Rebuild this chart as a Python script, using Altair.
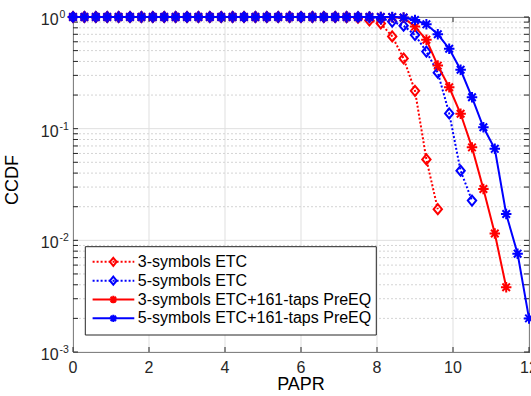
import altair as alt
import pandas as pd

# ---------------- data ----------------
PAPR = [0.0, 0.3, 0.6, 0.9, 1.2, 1.5, 1.8, 2.1, 2.4, 2.7, 3.0, 3.3, 3.6, 3.9,
        4.2, 4.5, 4.8, 5.1, 5.4, 5.7, 6.0, 6.3, 6.6, 6.9, 7.2, 7.5, 7.8, 8.1,
        8.4, 8.7, 9.0, 9.3, 9.6, 9.9, 10.2, 10.5, 10.8, 11.1, 11.4, 11.7, 12.0]

CCDF_3SYM_ETC = [1.0, 1.0, 1.0, 1.0, 1.0, 1.0, 1.0, 1.0, 1.0, 1.0, 1.0, 1.0,
                 1.0, 1.0, 1.0, 1.0, 1.0, 1.0, 1.0, 1.0, 1.0, 1.0, 1.0, 1.0,
                 0.998, 0.985, 0.93, 0.875, 0.67, 0.425, 0.218, 0.053, 0.019]

CCDF_5SYM_ETC = [1.0, 1.0, 1.0, 1.0, 1.0, 1.0, 1.0, 1.0, 1.0, 1.0, 1.0, 1.0,
                 1.0, 1.0, 1.0, 1.0, 1.0, 1.0, 1.0, 1.0, 1.0, 1.0, 1.0, 1.0,
                 1.0, 1.0, 0.995, 0.97, 0.91, 0.835, 0.69, 0.49, 0.317, 0.137,
                 0.042, 0.0227]

CCDF_3SYM_PREEQ = [1.0, 1.0, 1.0, 1.0, 1.0, 1.0, 1.0, 1.0, 1.0, 1.0, 1.0, 1.0,
                   1.0, 1.0, 1.0, 1.0, 1.0, 1.0, 1.0, 1.0, 1.0, 1.0, 1.0, 1.0,
                   1.0, 1.0, 1.0, 1.0, 0.997, 0.985, 0.82, 0.625, 0.367, 0.235,
                   0.136, 0.068, 0.0288, 0.0115, 0.0038]

CCDF_5SYM_PREEQ = [1.0, 1.0, 1.0, 1.0, 1.0, 1.0, 1.0, 1.0, 1.0, 1.0, 1.0, 1.0,
                   1.0, 1.0, 1.0, 1.0, 1.0, 1.0, 1.0, 1.0, 1.0, 1.0, 1.0, 1.0,
                   1.0, 1.0, 1.0, 1.0, 1.0, 0.99, 0.94, 0.86, 0.70, 0.52, 0.337,
                   0.191, 0.103, 0.066, 0.0172, 0.0076, 0.0020]

SERIES_NAMES = ["3-symbols ETC", "5-symbols ETC",
                "3-symbols ETC+161-taps PreEQ", "5-symbols ETC+161-taps PreEQ"]
SERIES_VALUES = [CCDF_3SYM_ETC, CCDF_5SYM_ETC, CCDF_3SYM_PREEQ, CCDF_5SYM_PREEQ]

X_TICKS = [0, 2, 4, 6, 8, 10, 12]
Y_MAJOR = [1, 0.1, 0.01, 0.001]
Y_EXP = ["0", "-1", "-2", "-3"]
Y_MINOR = [0.9, 0.8, 0.7, 0.6, 0.5, 0.4, 0.3, 0.2,
           0.09, 0.08, 0.07, 0.06, 0.05, 0.04, 0.03, 0.02,
           0.009, 0.008, 0.007, 0.006, 0.005, 0.004, 0.003, 0.002]
X_TITLE = "PAPR"
Y_TITLE = "CCDF"

# ---------------- styles ----------------
W, H = 456, 335
FONT = "Liberation Sans"
AX = "#262626"
GRID = "#dfdfdf"
RED = "#ff0000"
BLUE = "#0000ff"
COLORS = [RED, BLUE, RED, BLUE]
DOTTED = [2, 2]
DASHES = [DOTTED, DOTTED, None, None]
DIAMOND = "M0,-1.2L1,0L0,1.2L-1,0Z"
STAR = "M-1,0L1,0M0,-1L0,1M-0.72,-0.72L0.72,0.72M-0.72,0.72L0.72,-0.72"
SHAPES = [DIAMOND, DIAMOND, STAR, STAR]
SIZES = [70, 70, 110, 110]
LEG_SIZES = [45, 45, 55, 55]

xs = alt.Scale(domain=[0, 12], nice=False, zero=False)
ys = alt.Scale(type="log", domain=[0.001, 1], nice=False)


def X(field):
    return alt.X(field, scale=xs, axis=None)


def Y(field):
    return alt.Y(field, scale=ys, axis=None)


layers = []

# grids
xgrid_df = pd.DataFrame({"v": X_TICKS})
ymaj_df = pd.DataFrame({"v": Y_MAJOR, "e": Y_EXP})
minor_df = pd.DataFrame({"v": Y_MINOR})
layers.append(alt.Chart(xgrid_df).mark_rule(color=GRID, strokeWidth=1).encode(x=X("v:Q")))
layers.append(alt.Chart(ymaj_df).mark_rule(color=GRID, strokeWidth=1).encode(y=Y("v:Q")))
layers.append(
    alt.Chart(minor_df).mark_rule(color="#d4d4d4", strokeWidth=1, strokeDash=[2, 2])
    .encode(y=Y("v:Q"))
)

# inward ticks
ytick_df = pd.DataFrame({"v": Y_MAJOR + Y_MINOR})
for x0, x1 in [(0, 5), (W - 5, W)]:
    layers.append(
        alt.Chart(ytick_df).mark_rule(color=AX, strokeWidth=1)
        .encode(y=Y("v:Q"), x=alt.value(x0), x2=alt.value(x1))
    )
for y0, y1 in [(H - 5, H), (0, 5)]:
    layers.append(
        alt.Chart(xgrid_df).mark_rule(color=AX, strokeWidth=1)
        .encode(x=X("v:Q"), y=alt.value(y0), y2=alt.value(y1))
    )

# x tick labels
layers.append(
    alt.Chart(xgrid_df).mark_text(align="center", baseline="alphabetic",
                                  font=FONT, fontSize=16, color=AX)
    .encode(x=X("v:Q"), y=alt.value(H + 21), text=alt.Text("v:Q", format="d"))
)
# y tick labels: 10 with superscript exponent
layers.append(
    alt.Chart(ymaj_df).mark_text(align="right", baseline="alphabetic", dy=8,
                                 font=FONT, fontSize=16, color=AX)
    .encode(y=Y("v:Q"), x=alt.value(-14.4), text=alt.value("10"))
)
layers.append(
    alt.Chart(ymaj_df).mark_text(align="left", baseline="alphabetic", dy=1,
                                 font=FONT, fontSize=10.5, color=AX)
    .encode(y=Y("v:Q"), x=alt.value(-13.6), text="e:N")
)

# axis titles
one = pd.DataFrame({"k": [0]})
layers.append(
    alt.Chart(one).mark_text(align="center", baseline="alphabetic", font=FONT,
                             fontSize=18, color="#000000")
    .encode(x=alt.value(W / 2), y=alt.value(H + 38), text=alt.value(X_TITLE))
)
layers.append(
    alt.Chart(one).mark_text(align="center", baseline="alphabetic", font=FONT,
                             fontSize=18, color="#000000", angle=270)
    .encode(x=alt.value(-54.7), y=alt.value(163), text=alt.value(Y_TITLE))
)

# series
for i, (name, vals) in enumerate(zip(SERIES_NAMES, SERIES_VALUES)):
    df = pd.DataFrame({"papr": PAPR[:len(vals)], "ccdf": vals})
    line_kw = dict(color=COLORS[i], strokeWidth=2)
    if DASHES[i]:
        line_kw["strokeDash"] = DASHES[i]
    enc = dict(x=X("papr:Q"), y=Y("ccdf:Q"))
    layers.append(alt.Chart(df).mark_line(**line_kw).encode(**enc))
    layers.append(
        alt.Chart(df).mark_point(shape=SHAPES[i], filled=False, color=COLORS[i],
                                 strokeWidth=2, size=SIZES[i], opacity=1)
        .encode(**enc)
    )

# legend (manual, MATLAB style)
layers.append(
    alt.Chart(one).mark_rect(fill="white", stroke=AX, strokeWidth=1)
    .encode(x=alt.value(12.3), x2=alt.value(303.3), y=alt.value(229.7), y2=alt.value(318))
)
for i, name in enumerate(SERIES_NAMES):
    ly = 244.8 + i * 18.85
    kw = dict(color=COLORS[i], strokeWidth=2)
    if DASHES[i]:
        kw["strokeDash"] = DASHES[i]
    layers.append(
        alt.Chart(one).mark_rule(**kw)
        .encode(x=alt.value(19.6), x2=alt.value(61.3), y=alt.value(ly))
    )
    layers.append(
        alt.Chart(one).mark_point(shape=SHAPES[i], filled=False, color=COLORS[i],
                                  strokeWidth=2, size=LEG_SIZES[i], opacity=1)
        .encode(x=alt.value(40.3), y=alt.value(ly))
    )
    layers.append(
        alt.Chart(one).mark_text(align="left", baseline="middle", font=FONT,
                                 fontSize=16, color="#000000")
        .encode(x=alt.value(64.8), y=alt.value(ly), text=alt.value(name))
    )

chart = (
    alt.layer(*layers)
    .properties(width=W, height=H, autosize="none",
                padding={"left": 73, "top": 17, "right": 2, "bottom": 44},
                background="white")
    .configure_view(stroke=AX, strokeWidth=1)
)

chart.save("out.html", embed_options={"renderer": "svg", "actions": False})
